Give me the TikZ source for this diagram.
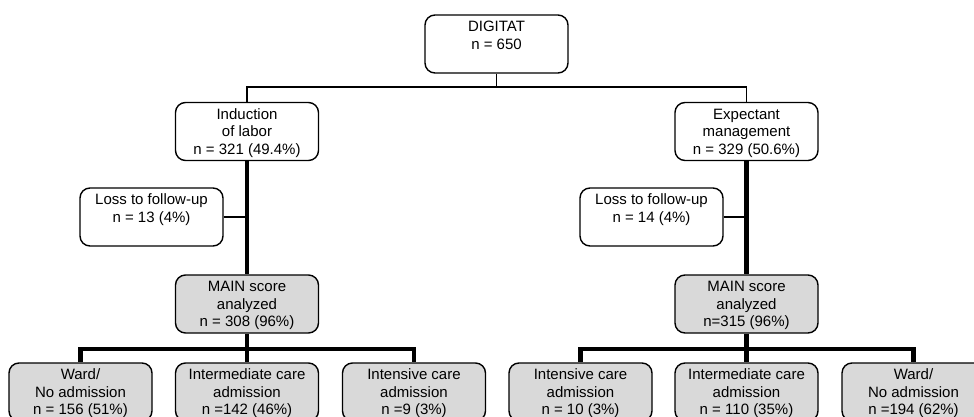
\documentclass[tikz,border=0pt]{standalone}
\usepackage{fontspec}
\setmainfont{Liberation Sans}
\usetikzlibrary{positioning}
\definecolor{scorefill}{RGB}{217,217,217}
\begin{document}
\begin{tikzpicture}[x=1pt,y=-1pt,
  main node/.style={draw,rounded corners=10pt,line width=1.4pt,align=center,
    minimum width=143pt,minimum height=58pt,inner sep=2pt,text depth=-4pt,
    font=\fontsize{15pt}{17.5pt}\selectfont},
  score node/.style={main node,fill=scorefill},
  thin link/.style={line width=1.4pt},
  thick link/.style={line width=4.5pt}]
  \useasboundingbox (0,0) rectangle (974,417);

  \node[main node] (1) at (496.5,44) {DIGITAT\\ n = 650\\ \mbox{}};
  \node[main node] (2) at (247,131.5) {Induction\\ of labor\\ n = 321 (49.4\%)};
  \node[main node] (3) at (746.5,131.5) {Expectant\\ management\\ n = 329 (50.6\%)};
  \node[main node] (4) at (151.5,217) {Loss to follow-up\\ n = 13 (4\%)\\ \mbox{}};
  \node[main node] (5) at (651.5,217) {Loss to follow-up\\ n = 14 (4\%)\\ \mbox{}};
  \node[score node] (6) at (247,304) {MAIN score\\ analyzed\\ n = 308 (96\%)};
  \node[score node] (7) at (746.5,304) {MAIN score\\ analyzed\\ n=315 (96\%)};
  \node[score node] (8) at (80.5,392) {Ward/\\ No admission\\ n = 156 (51\%)};
  \node[score node] (9) at (247,392) {Intermediate care\\ admission\\ n =142 (46\%)};
  \node[score node] (10) at (414,392) {Intensive care\\ admission\\ n =9 (3\%)};
  \node[score node] (11) at (580.5,392) {Intensive care\\ admission\\ n = 10 (3\%)};
  \node[score node] (12) at (746.5,392) {Intermediate care\\ admission\\ n = 110 (35\%)};
  \node[score node] (13) at (913.5,392) {Ward/\\ No admission\\ n =194 (62\%)};

  \coordinate (split) at (496.5,87);
  \coordinate (fork left) at (247,349);
  \coordinate (fork right) at (746.5,349);

  \draw[thin link] (1) -- (split);
  \draw[thin link] (2.north) |- (split) -| (3.north);
  \draw[thin link] (4.east) -- (4.east -| 2);
  \draw[thin link] (5.east) -- (5.east -| 3);

  \draw[thick link] (2) -- (6);
  \draw[thick link] (3) -- (7);
  \draw[thick link] (6) -- (fork left);
  \draw[thick link] (7) -- (fork right);
  \draw[thick link] (8.north) |- (fork left) -| (10.north);
  \draw[thick link] (fork left) -- (9);
  \draw[thick link] (11.north) |- (fork right) -| (13.north);
  \draw[thick link] (fork right) -- (12);
\end{tikzpicture}
\end{document}
